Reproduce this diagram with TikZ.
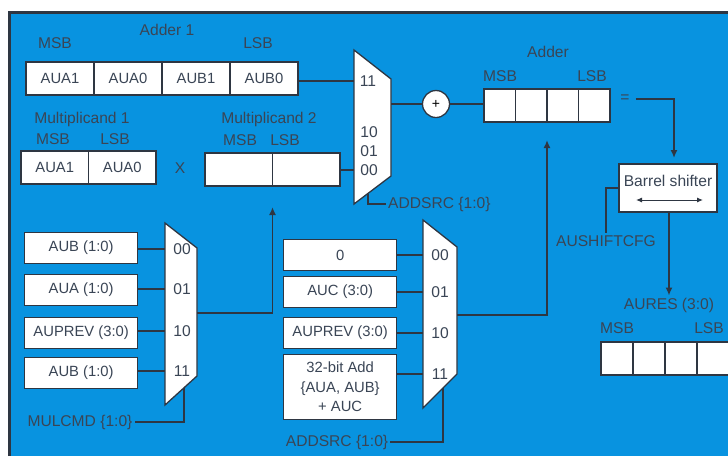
\documentclass[tikz,border=0pt]{standalone}
\usepackage{fontspec}
\setmainfont{Liberation Sans}
\usepackage{tikz}
\usetikzlibrary{arrows.meta,positioning,calc}
\definecolor{aluback}{HTML}{0893E0}
\definecolor{aluink}{HTML}{3A4555}
\definecolor{aluwire}{HTML}{2E3642}
\tikzset{
  regcell/.style={
    draw=aluwire,
    line width=1.3pt,
    fill=white,
    minimum height=33pt,
    inner sep=0pt,
    outer sep=0pt,
    text=aluink,
    font=\fontsize{14.8}{19}\selectfont
  },
  srcbox/.style={
    draw=aluwire,
    line width=1.3pt,
    fill=white,
    minimum width=113pt,
    minimum height=31pt,
    inner sep=0pt,
    align=center,
    text=aluink,
    font=\fontsize{14.8}{19.5}\selectfont
  },
  muxbody/.style={
    draw=aluwire,
    line width=1.3pt,
    fill=white
  },
  aluline/.style={
    draw=aluwire,
    line width=1.6pt
  },
  aluarrow/.style={
    -{Latex[length=8pt,width=7pt]},
    draw=aluwire,
    line width=1.6pt
  },
  aluname/.style={
    text=aluink,
    inner sep=2pt
  }
}
\begin{document}
\begin{tikzpicture}[x=1pt, y=-1pt, font=\fontsize{15.6}{19}\selectfont]
    \useasboundingbox (0,0) rectangle (728,456);
    \fill[white] (0,0) rectangle (728,456);
    \fill[aluback] (9,12) rectangle (728,456);
    \draw[aluwire, line width=3pt] (9,456) -- (9,12) -- (728,12);

    % Adder 1 register
    \node[aluname] (adder1lbl) at (167,30) {Adder 1};
    \node[aluname] (adder1msb) at (55,43) {MSB};
    \node[aluname] (adder1lsb) at (258,43) {LSB};
    \node[regcell, minimum width=68pt, anchor=north west] (adda1) at (26,62) {AUA1};
    \node[regcell, minimum width=68pt, right=0pt of adda1] (adda0) {AUA0};
    \node[regcell, minimum width=68pt, right=0pt of adda0] (addb1) {AUB1};
    \node[regcell, minimum width=68pt, right=0pt of addb1] (addb0) {AUB0};

    % multiplicands
    \node[aluname] (mc1lbl) at (82,119) {Multiplicand 1};
    \node[aluname] (mc1msb) at (53,139) {MSB};
    \node[aluname] (mc1lsb) at (115,139) {LSB};
    \node[regcell, minimum width=67.5pt, anchor=north west] (mcaa1) at (21,151) {AUA1};
    \node[regcell, minimum width=67.5pt, right=0pt of mcaa1] (mcaa0) {AUA0};
    \node[aluname] (times) at (180,168) {X};
    \node[aluname] (mc2lbl) at (269,119) {Multiplicand 2};
    \node[aluname] (mc2msb) at (240,140) {MSB};
    \node[aluname] (mc2lsb) at (285,140) {LSB};
    \node[regcell, minimum width=67.5pt, anchor=north west] (mcb1) at (205,153) {};
    \node[regcell, minimum width=67.5pt, right=0pt of mcb1] (mcb0) {};

    % upper adder mux
    \draw[muxbody] (354,50) coordinate (muxa-nw) -- (391,79) -- (391,176) -- (354,204) -- cycle;
    \coordinate (muxa-out) at (391,104);
    \coordinate (muxa-sel) at (368,193.5);
    \node[aluname] (muxa11) at (368,81) {11};
    \node[aluname] (muxa10) at (369,132) {10};
    \node[aluname] (muxa01) at (369,151) {01};
    \node[aluname] (muxa00) at (369,170) {00};
    \node[aluname, anchor=west] (addsrca) at (386,204) {ADDSRC \{1:0\}};

    % adder register
    \node[draw=aluwire, line width=1.3pt, fill=white, circle, minimum size=27pt, inner sep=0pt, font=\fontsize{14}{14}\selectfont] (plus) at (436,104) {+};
    \node[aluname] (adderlbl) at (548,52) {Adder};
    \node[aluname] (addermsb) at (500,76) {MSB};
    \node[aluname] (adderlsb) at (592,76) {LSB};
    \node[regcell, minimum width=31.5pt, anchor=north west] (sum3) at (484,89) {};
    \node[regcell, minimum width=31.5pt, right=0pt of sum3] (sum2) {};
    \node[regcell, minimum width=31.5pt, right=0pt of sum2] (sum1) {};
    \node[regcell, minimum width=31.5pt, right=0pt of sum1] (sum0) {};
    \node[aluname] (eq) at (625,99) {=};

    % barrel shifter and result
    \node[regcell, minimum width=98pt, minimum height=48pt, text height=11pt, text depth=14pt, font=\fontsize{15.6}{19}\selectfont] (barrel) at (668,188) {Barrel shifter};
    \draw[{Latex[length=6pt,width=5pt]}-{Latex[length=6pt,width=5pt]}, draw=aluwire, line width=1pt] ([xshift=-32pt,yshift=-12pt]barrel.center) -- ([xshift=35pt,yshift=-12pt]barrel.center);
    \node[aluname] (aushift) at (606,241) {AUSHIFTCFG};
    \node[aluname] (aures) at (669,305) {AURES (3:0)};
    \node[aluname] (auresmsb) at (617,328) {MSB};
    \node[aluname] (aureslsb) at (709,328) {LSB};
    \node[regcell, minimum width=32pt, anchor=north west] (res3) at (601,342) {};
    \node[regcell, minimum width=32pt, right=0pt of res3] (res2) {};
    \node[regcell, minimum width=32pt, right=0pt of res2] (res1) {};
    \node[regcell, minimum width=32pt, right=0pt of res1] (res0) {};

    % multiplier source mux
    \node[srcbox, anchor=north west] (inb0) at (24,232) {AUB (1:0)};
    \node[srcbox, anchor=north west] (inb1) at (24,274) {AUA (1:0)};
    \node[srcbox, anchor=north west] (inb2) at (24,317) {AUPREV (3:0)};
    \node[srcbox, anchor=north west] (inb3) at (24,357) {AUB (1:0)};
    \draw[muxbody] (165,223) coordinate (muxb-nw) -- (197,248) -- (197,376) -- (165,405) -- cycle;
    \coordinate (muxb-out) at (197,313);
    \coordinate (muxb-sel) at (184,388);
    \node[aluname] (muxb00) at (182,249) {00};
    \node[aluname] (muxb01) at (182,289) {01};
    \node[aluname] (muxb10) at (182,331) {10};
    \node[aluname] (muxb11) at (182,371) {11};
    \node[aluname] (mulcmd) at (80,422) {MULCMD \{1:0\}};

    % adder source mux
    \node[srcbox, anchor=north west] (inc0) at (283,239) {0};
    \node[srcbox, anchor=north west] (inc1) at (283,276) {AUC (3:0)};
    \node[srcbox, anchor=north west] (inc2) at (283,317) {AUPREV (3:0)};
    \node[srcbox, anchor=north west, minimum height=65pt] (inc3) at (283,354) {32-bit Add\\\{AUA, AUB\}\\+ AUC};
    \draw[muxbody] (423,220) coordinate (muxc-nw) -- (457,247) -- (457,374) -- (423,408) -- cycle;
    \coordinate (muxc-out) at (457,315);
    \coordinate (muxc-sel) at (443,388);
    \node[aluname] (muxc00) at (440,255) {00};
    \node[aluname] (muxc01) at (440,292) {01};
    \node[aluname] (muxc10) at (440,333) {10};
    \node[aluname] (muxc11) at (440,374) {11};
    \node[aluname] (addsrcc) at (337,442) {ADDSRC \{1:0\}};

    % wires
    \draw[aluline] (addb0.east |- muxa11) -- (muxa-nw |- muxa11);
    \draw[aluline] (mcb0.east |- muxa00) -- (muxa-nw |- muxa00);
    \draw[aluline] (muxa-sel) |- (addsrca.west);
    \draw[aluline] (muxa-out) -- (plus);
    \draw[aluline] (plus) -- (sum3.west |- plus);
    \draw[aluarrow, shorten <=4pt, shorten >=6pt] (eq.east) -| ([xshift=6pt]barrel.north);
    \draw[aluline] (barrel.west) -| (aushift.north);
    \draw[aluarrow] (barrel.south -| aures) -- (aures.north);
    \draw[aluline] (inb0.east |- muxb00) -- (muxb-nw |- muxb00);
    \draw[aluline] (inb1.east |- muxb01) -- (muxb-nw |- muxb01);
    \draw[aluline] (inb2.east |- muxb10) -- (muxb-nw |- muxb10);
    \draw[aluline] (inb3.east |- muxb11) -- (muxb-nw |- muxb11);
    \draw[aluarrow, shorten >=21pt] (muxb-out) -| (mcb1.south east);
    \draw[aluline] (muxb-sel) |- (mulcmd.east);
    \draw[aluline] (inc0.east |- muxc00) -- (muxc-nw |- muxc00);
    \draw[aluline] (inc1.east |- muxc01) -- (muxc-nw |- muxc01);
    \draw[aluline] (inc2.east |- muxc10) -- (muxc-nw |- muxc10);
    \draw[aluline] (inc3.east |- muxc11) -- (muxc-nw |- muxc11);
    \draw[aluarrow, shorten >=18pt] (muxc-out) -| (sum2.south east);
    \draw[aluline] (muxc-sel) |- (addsrcc.east);
  \end{tikzpicture}
\end{document}
